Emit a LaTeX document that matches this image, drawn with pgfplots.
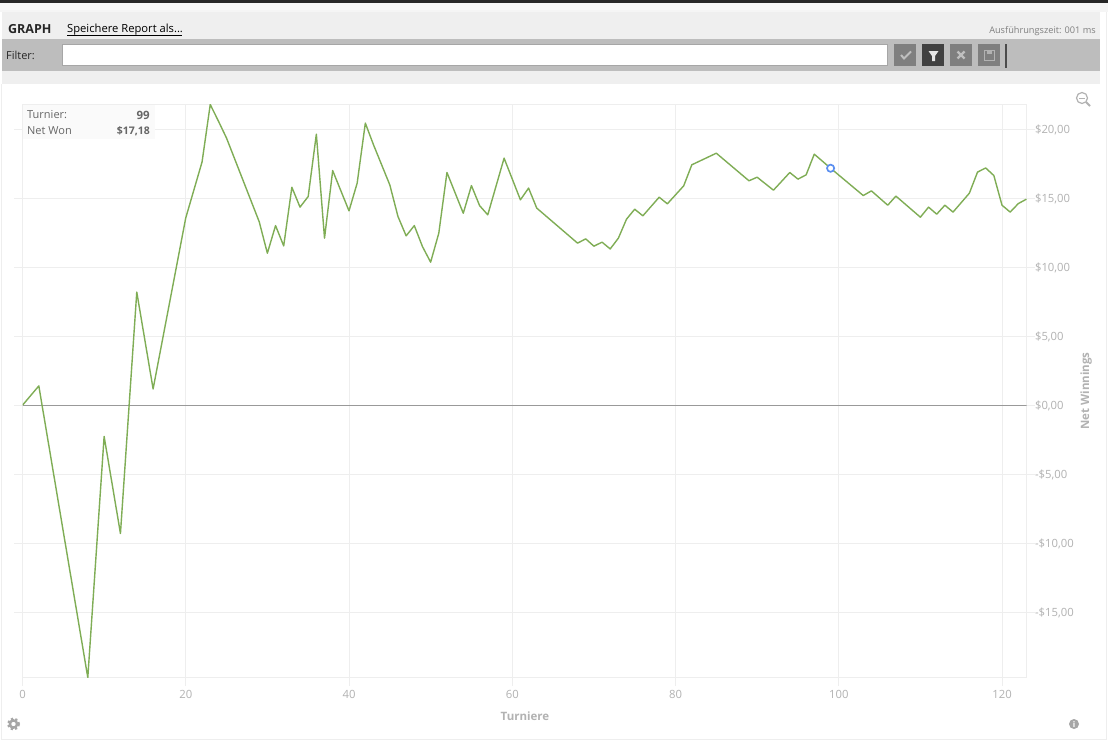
\documentclass[border=0pt]{standalone}
\usepackage{pgfplots}
\pgfplotsset{compat=1.18}
\usepackage{fontspec}
\setmainfont{Open Sans}
\definecolor{panel}{HTML}{EFEFEF}
\definecolor{topg}{HTML}{F5F5F5}
\definecolor{barg}{HTML}{BDBDBD}
\definecolor{gridc}{HTML}{EEEEEE}
\definecolor{tickc}{HTML}{B2B2B2}
\definecolor{linec}{HTML}{7FAD55}
\definecolor{btn}{HTML}{7F7F7F}
\definecolor{tipc}{HTML}{FAFAFA}
\definecolor{dotc}{HTML}{5B8FF0}
\begin{document}
\begin{tikzpicture}[x=1pt,y=-1pt]
% window chrome, in reference pixels
\useasboundingbox (0,0) rectangle (1108,740);
\fill[white] (0,0) rectangle (1108,740);
\fill[topg] (0,0) rectangle (1108,12);
\fill[black!85] (0,0) rectangle (1108,3);
\fill[panel] (2,12) rectangle (1100,84);
\fill[barg] (2,39) rectangle (1100,71);
\fill[white,draw=black!35,line width=.8pt] (62.5,44.5) rectangle (887.5,65.5);
\draw[gridc,line width=1pt] (1.5,84) -- (1.5,739.5) -- (1106.5,739.5) -- (1106.5,12);
\node[anchor=west,inner sep=0,font=\fontsize{12.5}{14}\selectfont\bfseries,text=black!85] at (8,29) {GRAPH};
\node[anchor=west,inner sep=0,font=\fontsize{11.2}{14}\selectfont,text=black] (sp) at (67,29.5) {Speichere Report als...};
\draw[black,line width=.8pt] (67,35.5) -- (182,35.5);
\node[anchor=west,inner sep=0,font=\fontsize{11}{14}\selectfont,text=black!85] at (6,55) {Filter:};
\node[anchor=east,inner sep=0,font=\fontsize{9.2}{11}\selectfont,text=black!50] at (1096,31.5) {Ausführungszeit: 001 ms};
% toolbar buttons
\fill[btn] (894,44) rectangle (916,66);
\fill[black!75] (922,44) rectangle (944,66);
\fill[btn] (950,44) rectangle (972,66);
\fill[btn] (978,44) rectangle (1000,66);
\fill[black!70] (1005,44) rectangle (1007,68);
\draw[black!25!white,line width=2pt] (901,55) -- (904,58.5) -- (911,51.5);
\fill[black!10!white] (928.5,51) -- (938.5,51) -- (935,56) -- (935,61) -- (932,61) -- (932,56) -- cycle;
\draw[black!25!white,line width=2.2pt] (957.5,51.5) -- (964.5,58.5) (964.5,51.5) -- (957.5,58.5);
\draw[black!30!white,line width=1pt] (984.5,50.5) rectangle (994.5,60.5);
\fill[black!30!white] (987,50.5) rectangle (992,54);
% zoom icon
\draw[black!30!white,line width=1.2pt] (1082,98) circle (5.5);
\draw[black!30!white,line width=1.8pt] (1086,102) -- (1090,106);
\draw[black!30!white,line width=1pt] (1079,98) -- (1085,98);
\begin{scope}[x=1cm,y=1cm]
\begin{axis}[
	at={(22.5pt,-677.5pt)}, anchor=south west,
	scale only axis,
	width=1004pt, height=573pt,
	xmin=0, xmax=123,
	ymin=-19.74, ymax=21.8,
	xtick={0,20,40,60,80,100,120},
	ytick={-15,-10,-5,0,5,10,15,20},
	yticklabels={-\$15{,}00,-\$10{,}00,-\$5{,}00,\$0{,}00,\$5{,}00,\$10{,}00,\$15{,}00,\$20{,}00},
	yticklabel pos=right,
	xtick pos=bottom,
	grid=major,
	major grid style={line width=1pt,draw=gridc},
	axis line style={line width=1pt,draw=gridc},
	tick style={line width=1pt,draw=gridc},
	major tick length=8pt,
	tick align=outside,
	/pgf/number format/assume math mode=true,
	ticklabel style={font=\fontsize{11.3}{14}\selectfont,text=tickc},
	yticklabel style={anchor=west,xshift=-3pt,yshift=-1pt},
	xticklabel style={yshift=-1pt},
	clip=true,
]
\addplot[draw=black!40!white,line width=1pt,forget plot] coordinates {(0,0) (123,0)};
\addplot[draw=linec,line width=1.4pt,line join=round] coordinates {
	(0,0) (2,1.4) (8,-19.74) (10,-2.26) (12,-9.3) (14,8.2) (16,1.18)
	(20,13.58) (22,17.64) (23,21.8) (24,20.6) (25,19.36) (29,13.3)
	(30,11.02) (31,13.02) (32,11.55) (33,15.8) (34,14.36) (35,15.13)
	(36,19.65) (37,12.11) (38,17.01) (40,14.09) (41,16.1) (42,20.45)
	(43,18.88) (45,15.97) (46,13.68) (47,12.28) (48,13.02) (49,11.5)
	(50,10.37) (51,12.47) (52,16.87) (54,13.92) (55,15.92) (56,14.47)
	(57,13.8) (59,17.91) (61,14.89) (62,15.74) (63,14.29) (68,11.75)
	(69,12.06) (70,11.53) (71,11.82) (72,11.33) (73,12.11) (74,13.49)
	(75,14.21) (76,13.73) (78,15.08) (79,14.6) (81,15.9) (82,17.43)
	(85,18.27) (89,16.27) (90,16.53) (92,15.59) (94,16.87) (95,16.39)
	(96,16.7) (97,18.2) (99,17.18) (103,15.2) (104,15.54) (106,14.5)
	(107,15.16) (110,13.63) (111,14.36) (112,13.85) (113,14.5) (114,14)
	(116,15.37) (117,16.9) (118,17.2) (119,16.65) (120,14.5) (121,14)
	(122,14.62) (123,14.94)
};
\addplot[only marks,mark=*,mark size=3.6pt,mark options={draw=dotc,fill=white,line width=1.7pt}] coordinates {(99,17.18)};
\end{axis}
\end{scope}
% tooltip
\fill[tipc] (23,105) rectangle (155,139);
\node[anchor=west,inner sep=0,font=\fontsize{11}{13}\selectfont,text=black!60] at (27,115) {Turnier:};
\node[anchor=west,inner sep=0,font=\fontsize{11}{13}\selectfont,text=black!60] at (27,131) {Net Won};
\node[anchor=east,inner sep=0,font=\fontsize{11.5}{13}\selectfont\bfseries,text=black!60] at (150,115) {99};
\node[anchor=east,inner sep=0,font=\fontsize{10.5}{13}\selectfont\bfseries,text=black!60] at (150,131) {\$17,18};
% axis titles
\node[inner sep=0,font=\fontsize{11.5}{14}\selectfont\bfseries,text=tickc] at (525,716) {Turniere};
\node[inner sep=0,rotate=90,font=\fontsize{11.5}{14}\selectfont\bfseries,text=tickc] at (1086,391) {Net Winnings};
% corner icons
\draw[black!35,line width=2.4pt] (13.5,724) circle (3.6);
\draw[black!35,line width=2pt,dash pattern=on 2.3pt off 2.3pt] (13.5,724) circle (5.6);
\fill[black!35] (1074,724) circle (5);
\node[inner sep=0,font=\fontsize{8}{8}\selectfont\bfseries,text=white] at (1074,724) {i};
\end{tikzpicture}
\end{document}
